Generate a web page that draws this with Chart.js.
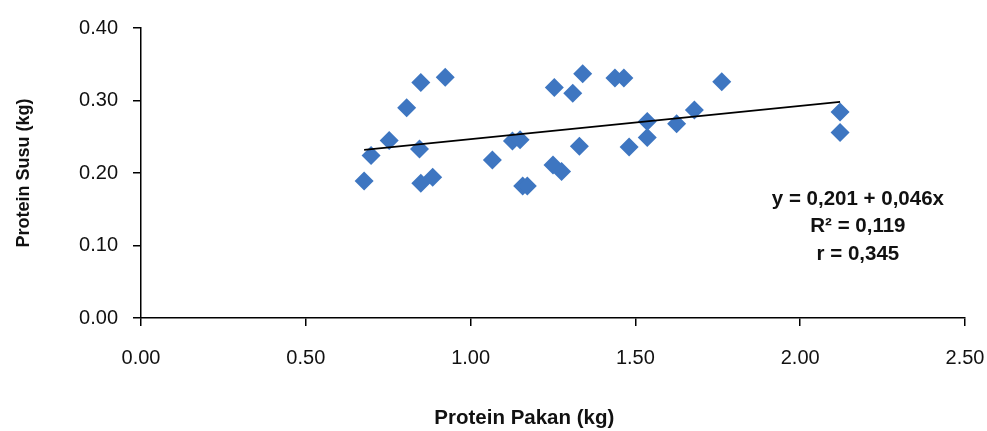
<!DOCTYPE html>
<html>
<head>
<meta charset="utf-8">
<script src="https://cdn.jsdelivr.net/npm/chart.js@4.4.1/dist/chart.umd.min.js"></script>
<style>
  html, body { margin: 0; padding: 0; background: #ffffff; }
  #wrap { width: 987px; height: 431px; position: relative; }
</style>
</head>
<body>
<div id="wrap"><canvas id="c" width="987" height="431"></canvas></div>
<script>
// Data
const proteinPakan = [0.677, 0.698, 0.753, 0.806, 0.845, 0.849, 0.849, 0.885, 0.923,
  1.066, 1.127, 1.150, 1.158, 1.172, 1.250, 1.254, 1.276, 1.310, 1.330, 1.340,
  1.438, 1.465, 1.481, 1.536, 1.536, 1.625, 1.679, 1.762, 2.121, 2.121];
const proteinSusu = [0.189, 0.224, 0.245, 0.290, 0.233, 0.325, 0.186, 0.194, 0.332,
  0.218, 0.244, 0.246, 0.182, 0.182, 0.211, 0.318, 0.202, 0.310, 0.237, 0.337,
  0.331, 0.331, 0.236, 0.271, 0.249, 0.268, 0.287, 0.326, 0.284, 0.256];
const trendX = [0.677, 2.121];
const trendY = [0.232, 0.298];
const xTicks = [0, 0.5, 1.0, 1.5, 2.0, 2.5];
const yTicks = [0, 0.1, 0.2, 0.3, 0.4];
const xTitle = 'Protein Pakan (kg)';
const yTitle = 'Protein Susu (kg)';
const eqLines = ['y = 0,201 + 0,046x', 'R\u00B2 = 0,119', 'r = 0,345'];

const FONT = "'Liberation Sans', Arial, sans-serif";
const points = proteinPakan.map((x, i) => ({ x: x, y: proteinSusu[i] }));
const trend = trendX.map((x, i) => ({ x: x, y: trendY[i] }));

const textPlugin = {
  id: 'texts',
  afterDraw(chart) {
    const ctx = chart.ctx;
    const xs = chart.scales.x, ys = chart.scales.y;
    ctx.save();
    ctx.fillStyle = '#111111';
    ctx.textAlign = 'center';
    ctx.textBaseline = 'middle';
    ctx.font = 'bold 20.5px ' + FONT;
    const ex = xs.getPixelForValue(2.175);
    const ey = ys.getPixelForValue(0.164);
    eqLines.forEach((t, i) => ctx.fillText(t, ex, ey + i * 27.5));
    // x axis title
    ctx.font = 'bold 20.5px ' + FONT;
    ctx.fillText(xTitle, xs.getPixelForValue(1.163), chart.height - 13);
    ctx.restore();
  }
};

new Chart(document.getElementById('c'), {
  type: 'scatter',
  data: {
    datasets: [
      {
        label: 'data',
        data: points,
        pointStyle: 'rectRot',
        pointRadius: 9.5,
        pointHoverRadius: 9.5,
        backgroundColor: '#3E76C1',
        borderColor: '#3E76C1',
        borderWidth: 0,
        order: 2
      },
      {
        label: 'trend',
        type: 'line',
        data: trend,
        showLine: true,
        borderColor: '#000000',
        borderWidth: 1.8,
        pointRadius: 0,
        fill: false,
        order: 1
      }
    ]
  },
  options: {
    responsive: false,
    animation: false,
    events: [],
    layout: { padding: { left: 0, top: 28, right: 22, bottom: 0 } },
    plugins: { legend: { display: false }, tooltip: { enabled: false } },
    scales: {
      x: {
        type: 'linear',
        min: 0, max: 2.5,
        afterBuildTicks: (s) => { s.ticks = xTicks.map(v => ({ value: v })); },
        afterFit: (s) => { s.height = 113; s.paddingRight = 0; s.paddingLeft = 0; },
        ticks: {
          padding: 20,
          color: '#111111',
          font: { family: FONT, size: 20 },
          callback: (v) => Number(v).toFixed(2)
        },
        grid: { display: true, drawOnChartArea: false, drawTicks: true, tickLength: 8, color: '#000000', lineWidth: 1.5 },
        border: { display: true, color: '#000000', width: 1.5 },
        title: { display: false }
      },
      y: {
        type: 'linear',
        min: 0, max: 0.4,
        afterBuildTicks: (s) => { s.ticks = yTicks.map(v => ({ value: v })); },
        afterFit: (s) => { s.width = 141; s.paddingTop = 0; s.paddingBottom = 0; },
        ticks: {
          padding: 15,
          color: '#111111',
          font: { family: FONT, size: 20 },
          callback: (v) => Number(v).toFixed(2)
        },
        grid: { display: true, drawOnChartArea: false, drawTicks: true, tickLength: 8, color: '#000000', lineWidth: 1.5 },
        border: { display: true, color: '#000000', width: 1.5 },
        title: {
          display: true,
          text: yTitle,
          color: '#111111',
          font: { family: FONT, size: 18, weight: 'bold' },
          padding: { top: 13, bottom: 0 }
        }
      }
    }
  },
  plugins: [textPlugin]
});
</script>
</body>
</html>
